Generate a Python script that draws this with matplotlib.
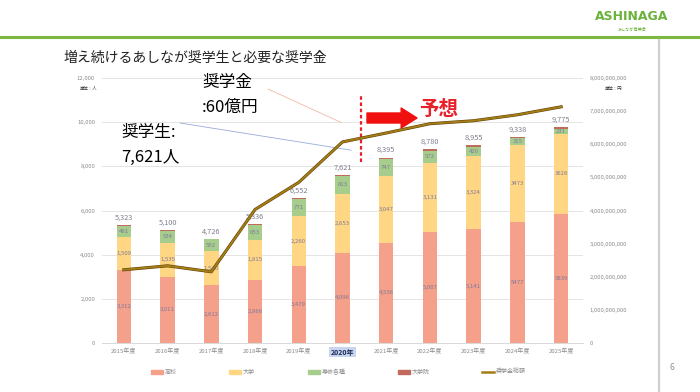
import matplotlib
matplotlib.use('Agg')
import matplotlib.pyplot as plt
import matplotlib.patheffects as pe
from matplotlib.patches import Patch
from matplotlib.lines import Line2D
import numpy as np

plt.rcParams['font.family'] = ['Noto Sans CJK JP', 'DejaVu Sans']

# data
years = ['2015年度', '2016年度', '2017年度', '2018年度', '2019年度', '2020年',
         '2021年度', '2022年度', '2023年度', '2024年度', '2025年度']
koukou = [3312, 3011, 2612, 2868, 3479, 4096, 4536, 5007, 5141, 5477, 5839]
daigaku = [1509, 1535, 1540, 1815, 2260, 2653, 3047, 3131, 3324, 3473, 3628]
senshu = [461, 534, 552, 653, 771, 813, 747, 572, 420, 315, 231]
daigakuin = [41, 20, 22, 40, 42, 59, 65, 70, 70, 73, 77]
totals = [5323, 5100, 4726, 5336, 6552, 7621, 8395, 8780, 8955, 9338, 9775]
funds = [2.21e9, 2.33e9, 2.15e9, 4.03e9, 4.85e9, 6.07e9,
         6.34e9, 6.62e9, 6.71e9, 6.89e9, 7.13e9]
series_names = ['高校', '大学', '専修各種', '大学院']
line_name = '奨学金総額'

colors = ['#F5A08A', '#FFD683', '#A6CD8C', '#C06B5C']
gold = '#A57C16'
W, H = 700, 392


def fy(py):
    # top-down pixel -> figure fraction
    return 1 - py / H


fig = plt.figure(figsize=(7, 3.92), dpi=100)
fig.patch.set_facecolor('white')

# slide decorations
fig.add_artist(Line2D([0, 1], [fy(36.5)] * 2, color='#7AB842', lw=2.2))
fig.add_artist(Line2D([659 / W] * 2, [fy(40), 0], color='#CFCFCF', lw=1.6))
fig.text(632 / W, fy(17), 'ASHINAGA', color='#6BB23A', fontsize=9,
         fontweight='bold', ha='center', va='center',
         family=['Liberation Sans Narrow', 'DejaVu Sans'])
fig.text(632 / W, fy(30), 'あしなが育英会', color='#6BB23A', fontsize=3,
         ha='center', va='center')
fig.text(63 / W, fy(58), '増え続けるあしなが奨学生と必要な奨学金', fontsize=10,
         ha='left', va='center', color='#222222')
fig.text(672 / W, fy(367), '6', fontsize=6, color='#909090', ha='center', va='center')

ax = fig.add_axes([102 / W, fy(343), (583 - 102) / W, (343 - 78) / H])
ax2 = ax.twinx()

x = np.arange(len(years))
data = [koukou, daigaku, senshu, daigakuin]
bottom = np.zeros(len(years))
for k, vals in enumerate(data):
    vals = np.array(vals)
    ax.bar(x, vals, 0.33, bottom=bottom, color=colors[k], zorder=2)
    if k < 3:
        for i, v in enumerate(vals):
            s = f'{v:,}' if i < 9 else str(v)
            ax.text(x[i], bottom[i] + v / 2, s, ha='center', va='center',
                    fontsize=4.3, color='#80799A', zorder=3)
    bottom += vals

for i, t in enumerate(totals):
    ax.annotate(f'{t:,}', (x[i], bottom[i]), xytext=(0, 2.5),
                textcoords='offset points', ha='center', va='bottom',
                fontsize=5.3, color='#7F7F8F')

ax2.plot(x, funds, color=gold, lw=1.4, zorder=5,
         path_effects=[pe.Stroke(linewidth=2.2, foreground='#5E4508'), pe.Normal()])

ax.set_xlim(-0.5, 10.5)
ax.set_ylim(0, 12000)
ax2.set_ylim(0, 8e9)
ax.set_yticks(np.arange(0, 12001, 2000))
ax.set_yticklabels([f'{v:,}' for v in range(0, 12001, 2000)])
ax2.set_yticks(np.arange(0, 8e9 + 1, 1e9))
ax2.set_yticklabels([f'{int(v):,}' for v in np.arange(0, 8e9 + 1, 1e9)])
ax.set_xticks(x)
ax.set_xticklabels(years)
ax.grid(axis='y', color='#E4E4E4', lw=0.7, zorder=0)
ax.set_axisbelow(True)
for a in (ax, ax2):
    for s in a.spines.values():
        s.set_visible(False)
    a.tick_params(length=0, labelsize=4.3, labelcolor='#8C8C8C')
ax.spines['bottom'].set_visible(True)
ax.spines['bottom'].set_color('#D9D9D9')
ax.spines['bottom'].set_linewidth(0.7)
ax.tick_params(axis='y', pad=5)
ax.tick_params(axis='x', pad=4)
ax2.tick_params(axis='y', pad=5)
hl = ax.get_xticklabels()[5]
hl.set_color('#1F2D5C')
hl.set_fontweight('bold')
hl.set_fontsize(5)
hl.set_bbox(dict(boxstyle='square,pad=0.25', fc='#C9D5EE', ec='none'))

fig.text(97 / W, fy(88), '単位：人', fontsize=3.2, ha='right', va='center', color='#333333')
fig.text(622 / W, fy(88), '単位：円', fontsize=3.2, ha='right', va='center', color='#333333')

# forecast marker
ax.vlines(5.43, 8200, 11200, colors='#E8202A', lw=1.6, linestyles=(0, (1.6, 1.2)), zorder=6)
ax.annotate('', xy=(417, H - 118), xytext=(367, H - 118),
            xycoords='figure pixels', textcoords='figure pixels',
            arrowprops=dict(arrowstyle='simple,tail_width=1.2,head_width=2.4,head_length=1.9',
                            color='#F01010', mutation_scale=6, shrinkA=0, shrinkB=0))
fig.text(419 / W, fy(110), '予想', fontsize=14, fontweight='bold', color='#E8202A',
         ha='left', va='center')

# callouts
ax2.annotate('', xy=(4.98, 6.65e9), xytext=(268, H - 89),
             textcoords='figure pixels',
             arrowprops=dict(arrowstyle='-', color='#F2B8A8', lw=0.6, shrinkA=0, shrinkB=0))
ax.annotate('', xy=(5.2, 8730), xytext=(180, H - 123),
            textcoords='figure pixels',
            arrowprops=dict(arrowstyle='-', color='#9AA9DC', lw=0.6, shrinkA=0, shrinkB=0))
fig.text(202 / W, fy(83), '奨学金', fontsize=12, ha='left', va='center')
fig.text(202 / W, fy(107), ':60億円', fontsize=12, ha='left', va='center')
fig.text(121 / W, fy(133), '奨学生:', fontsize=12, ha='left', va='center')
fig.text(121 / W, fy(157), '7,621人', fontsize=12, ha='left', va='center')

handles = [Patch(color=c, label=n) for c, n in zip(colors, series_names)]
handles.append(Line2D([], [], color=gold, lw=1.8, label=line_name))
leg = fig.legend(handles=handles, loc='center left', bbox_to_anchor=(151 / W, fy(372)),
                 ncol=5, frameon=False, fontsize=4.3, handlelength=2.0, handleheight=0.6,
                 handletextpad=0.3, columnspacing=8.8, borderaxespad=0, borderpad=0)
for t in leg.get_texts():
    t.set_color('#8C8C8C')

fig.savefig('out.png', dpi=100)
